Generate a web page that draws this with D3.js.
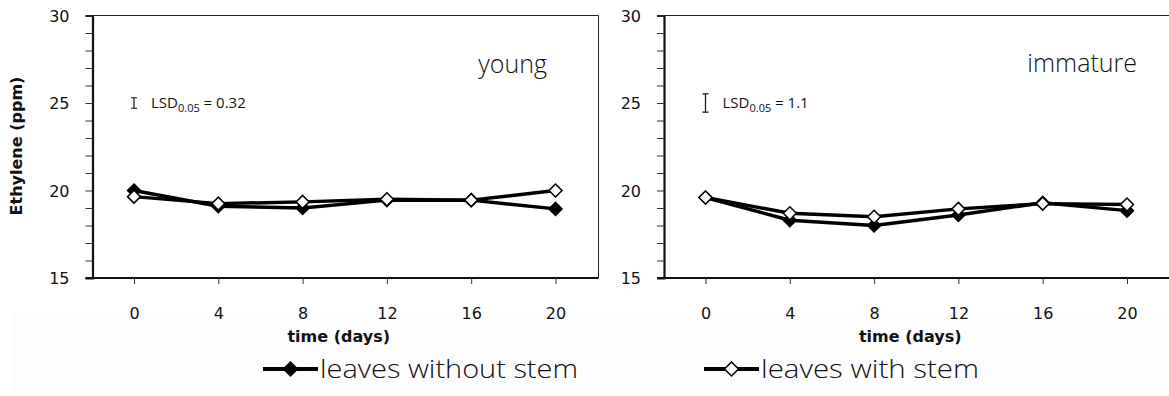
<!DOCTYPE html>
<html>
<head>
<meta charset="utf-8">
<script src="https://cdn.jsdelivr.net/npm/d3@7"></script>
<style>
  body { margin: 0; background: #fff; }
  svg { display: block; }
</style>
</head>
<body>
<script>
// values (ppm)
var days = [0, 4, 8, 12, 16, 20];
var yTicks = [15, 20, 25, 30];
var youngWithout = [20.0, 19.1, 19.0, 19.45, 19.45, 18.95];
var youngWith = [19.65, 19.25, 19.35, 19.5, 19.45, 20.0];
var immatureWithout = [19.6, 18.3, 18.0, 18.6, 19.3, 18.85];
var immatureWith = [19.6, 18.7, 18.5, 18.95, 19.25, 19.2];
var panelNames = ["young", "immature"];
var lsdLabels = ["0.32", "1.1"];
var lsdBar = [0.6, 1.05]; // height of the drawn LSD bar, in ppm
var seriesNames = ["leaves without stem", "leaves with stem"];

var W = 1169, H = 396;
var svg = d3.select("body").append("svg")
    .attr("width", W)
    .attr("height", H);

var tickFont = "'DejaVu Sans', Verdana, sans-serif";
var lightFont = "'Open Sans', 'Noto Sans', sans-serif";

// layout of the two panels
var panels = [
  { x0: 92.5, name: panelNames[0], lsd: lsdLabels[0], bar: lsdBar[0], data: [youngWithout, youngWith], titleX: 547, titleY: 73 },
  { x0: 664, name: panelNames[1], lsd: lsdLabels[1], bar: lsdBar[1], data: [immatureWithout, immatureWith], titleX: 1137, titleY: 72 }
];
var plotW = 506, plotTop = 15.5, plotBottom = 278;

var y = d3.scaleLinear().domain([15, 30]).range([plotBottom, plotTop]);

// diamond symbol
var diamond = function(s) {
  return "M0," + (-s) + "L" + s + ",0L0," + s + "L" + (-s) + ",0Z";
};

// very faint band behind the bottom texts
svg.append("rect")
    .attr("x", 13).attr("y", 312)
    .attr("width", W - 13).attr("height", H - 312)
    .attr("fill", "#fdfdfd");

panels.forEach(function(p) {
  var g = svg.append("g");
  var x = d3.scaleLinear().domain([0, 20]).range([p.x0 + 41.5, p.x0 + 463]);

  // thin frame (top, right)
  g.append("path")
      .attr("d", "M" + p.x0 + "," + plotTop + "H" + (p.x0 + plotW) + "V" + plotBottom)
      .attr("fill", "none")
      .attr("stroke", "#222")
      .attr("stroke-width", 1);

  // y axis
  var yAxis = d3.axisLeft(y)
      .tickValues(d3.range(15, 30.01, 1))
      .tickSize(7)
      .tickFormat(function(d) { return yTicks.indexOf(d) >= 0 ? d : ""; });
  var ya = g.append("g")
      .attr("transform", "translate(" + p.x0 + ",0)")
      .call(yAxis);
  ya.select(".domain").attr("stroke", "#111").attr("stroke-width", 2.2);
  ya.selectAll(".tick line").attr("stroke", "#333").attr("stroke-width", 1);
  ya.selectAll(".tick text")
      .attr("x", -23)
      .attr("dy", "0.35em")
      .style("font-family", tickFont)
      .style("font-size", "16px")
      .attr("fill", "#111");

  // x axis
  var xAxis = d3.axisBottom(x)
      .tickValues(days)
      .tickSize(6)
      .tickSizeOuter(0);
  var xa = g.append("g")
      .attr("transform", "translate(0," + plotBottom + ")")
      .call(xAxis);
  xa.select(".domain")
      .attr("d", "M" + (p.x0 - 7) + ",0H" + (p.x0 + plotW))
      .attr("stroke", "#111")
      .attr("stroke-width", 2.2);
  xa.selectAll(".tick line").attr("stroke", "#333").attr("stroke-width", 1);
  xa.selectAll(".tick text")
      .attr("y", 35)
      .attr("dy", "0.35em")
      .style("font-family", tickFont)
      .style("font-size", "16px")
      .attr("fill", "#111");

  g.append("text")
      .attr("x", (x(0) + x(20)) / 2 - 6)
      .attr("y", 342)
      .attr("text-anchor", "middle")
      .style("font-family", tickFont)
      .style("font-size", "16px")
      .style("font-weight", "bold")
      .attr("fill", "#111")
      .text("time (days)");

  // panel title
  g.append("text")
      .attr("x", p.titleX)
      .attr("y", p.titleY)
      .attr("text-anchor", "end")
      .style("font-family", lightFont)
      .style("font-weight", 300)
      .style("font-size", "25px")
      .attr("fill", "#111")
      .text(p.name);

  // LSD bar and label
  var bx = x(0), b1 = y(25 - p.bar / 2), b2 = y(25 + p.bar / 2);
  g.append("path")
      .attr("d", "M" + (bx - 3) + "," + b1 + "H" + (bx + 3) +
                 "M" + bx + "," + b1 + "V" + b2 +
                 "M" + (bx - 3) + "," + b2 + "H" + (bx + 3))
      .attr("stroke", "#111")
      .attr("stroke-width", 1.2)
      .attr("fill", "none");
  var lt = g.append("text")
      .attr("x", bx + 17)
      .attr("y", y(25) + 5)
      .style("font-family", lightFont)
      .style("font-size", "15px")
      .attr("fill", "#111");
  lt.append("tspan").text("LSD");
  lt.append("tspan").attr("dy", 4).style("font-size", "11px").text("0.05");
  lt.append("tspan").attr("dy", -4).text(" = " + p.lsd);

  // series: without stem first, with stem on top
  var line = d3.line()
      .x(function(d, i) { return x(days[i]); })
      .y(function(d) { return y(d); });
  p.data.forEach(function(vals, si) {
    g.append("path")
        .datum(vals)
        .attr("d", line)
        .attr("fill", "none")
        .attr("stroke", "#000")
        .attr("stroke-width", 3.5)
        .attr("stroke-linejoin", "round");
    g.selectAll(".m" + si)
        .data(vals)
        .enter()
        .append("path")
        .attr("class", "m" + si)
        .attr("d", diamond(6.5))
        .attr("transform", function(d, i) { return "translate(" + x(days[i]) + "," + y(d) + ")"; })
        .attr("fill", si === 0 ? "#000" : "#fff")
        .attr("stroke", "#000")
        .attr("stroke-width", 1.5);
  });
});

// y axis title
svg.append("text")
    .attr("transform", "translate(22,146) rotate(-90)")
    .attr("text-anchor", "middle")
    .style("font-family", tickFont)
    .style("font-size", "16px")
    .style("font-weight", "bold")
    .attr("fill", "#111")
    .text("Ethylene (ppm)");

// legend
var legendX = [263, 704];
var legendW = [258, 218];
var ly = 369;
seriesNames.forEach(function(name, i) {
  var lg = svg.append("g").attr("transform", "translate(" + legendX[i] + "," + ly + ")");
  lg.append("line")
      .attr("x1", 0).attr("x2", 55)
      .attr("stroke", "#000")
      .attr("stroke-width", 4);
  lg.append("path")
      .attr("d", diamond(7))
      .attr("transform", "translate(27.5,0)")
      .attr("fill", i === 0 ? "#000" : "#fff")
      .attr("stroke", "#000")
      .attr("stroke-width", 1.5);
  lg.append("text")
      .attr("x", 57)
      .attr("y", 9)
      .attr("textLength", legendW[i])
      .attr("lengthAdjust", "spacingAndGlyphs")
      .style("font-family", lightFont)
      .style("font-weight", 300)
      .style("font-size", "25px")
      .attr("fill", "#111")
      .text(name);
});
</script>
</body>
</html>
